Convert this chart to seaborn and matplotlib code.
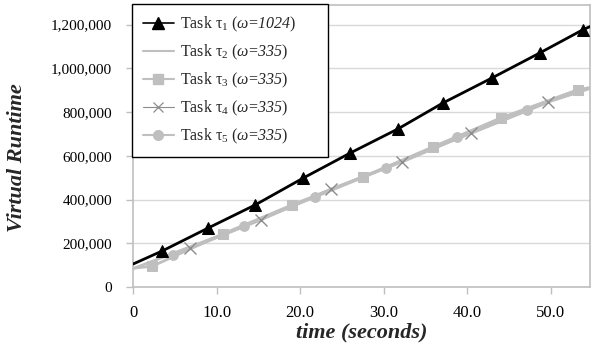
import numpy as np
import pandas as pd
import seaborn as sns
import matplotlib.pyplot as plt
from matplotlib.lines import Line2D
from matplotlib.ticker import FuncFormatter, MultipleLocator

# values (time in seconds, virtual runtime)
t1_x = [0, 3.5, 9.0, 14.6, 20.4, 26.0, 31.7, 37.1, 43.0, 48.7, 53.8, 55.5]
t1_y = [105000, 165000, 270000, 375000, 499000, 613000, 723000, 842000,
        957000, 1071000, 1176000, 1205000]
t1_mark = [1, 2, 3, 4, 5, 6, 7, 8, 9, 10]

t2_x = [0, 10.0, 20.0, 30.0, 40.0, 50.0, 55.5]
t2_y = [84000, 230000, 388000, 543000, 696000, 850000, 918000]

t3_x = [0, 2.3, 10.8, 19.0, 27.5, 35.9, 44.0, 53.2, 55.5]
t3_y = [86000, 95000, 243000, 375000, 503000, 641000, 773000, 902000, 918000]
t3_mark = [1, 2, 3, 4, 5, 6, 7]

t4_x = [6.8, 15.3, 23.7, 32.2, 40.4, 49.7]
t4_y = [177000, 307000, 448000, 572000, 705000, 847000]

t5_x = [4.8, 13.3, 21.8, 30.3, 38.8, 47.2]
t5_y = [145000, 279000, 412000, 545000, 686000, 810000]

pad = "      "
labels = [
    r"Task τ$_1$ ($\mathit{ω}$=$\mathsf{1024}$)" + pad,
    r"Task τ$_2$ ($\mathit{ω}$=$\mathsf{335}$)" + pad,
    r"Task τ$_3$ ($\mathit{ω}$=$\mathsf{335}$)" + pad,
    r"Task τ$_4$ ($\mathit{ω}$=$\mathsf{335}$)" + pad,
    r"Task τ$_5$ ($\mathit{ω}$=$\mathsf{335}$)" + pad,
]

sns.set_theme(style="white")
plt.rcParams["font.family"] = ["Liberation Serif", "DejaVu Serif"]
plt.rcParams["mathtext.fontset"] = "custom"
plt.rcParams["mathtext.rm"] = "Liberation Serif"
plt.rcParams["mathtext.it"] = "Liberation Serif:italic"
plt.rcParams["mathtext.sf"] = "Liberation Serif:italic"
plt.rcParams["mathtext.bf"] = "Liberation Serif:bold"

fig = plt.figure(figsize=(5.92, 3.5), dpi=100)
ax = fig.add_axes([0.2247, 0.18, 0.772, 0.8057])

gray = "#bfbfbf"
common = dict(ax=ax, estimator=None, sort=False, legend=False)

sns.lineplot(x=t2_x, y=t2_y, color=gray, lw=2, zorder=2, **common)
sns.lineplot(x=t3_x, y=t3_y, color=gray, lw=2, marker="s", markersize=7,
             markeredgecolor=gray, markevery=t3_mark, zorder=3, **common)
sns.lineplot(x=t4_x, y=t4_y, color=gray, lw=2, marker="x", markersize=8,
             markeredgecolor="#8c8c8c", markeredgewidth=1, zorder=4, **common)
sns.lineplot(x=t5_x, y=t5_y, color=gray, lw=2, marker="o", markersize=7,
             markeredgecolor=gray, zorder=3, **common)
sns.lineplot(x=t1_x, y=t1_y, color="black", lw=2, marker="^", markersize=8,
             markeredgecolor="black", markevery=t1_mark, zorder=5, **common)

handles = [
    Line2D([], [], color="black", lw=1.2, marker="^", markersize=8),
    Line2D([], [], color=gray, lw=1.5),
    Line2D([], [], color=gray, lw=1.5, marker="s", markersize=7),
    Line2D([], [], color="#8c8c8c", lw=0.8, marker="x", markersize=7,
           markeredgewidth=0.9),
    Line2D([], [], color=gray, lw=1.5, marker="o", markersize=7),
]
leg = ax.legend(handles, labels, loc="upper left", bbox_to_anchor=(-0.002, 1.005),
                fontsize=11.5, frameon=True, fancybox=False, framealpha=1,
                edgecolor="black", labelspacing=0.55, handlelength=1.9,
                handletextpad=0.4, borderpad=0.7, borderaxespad=0.0)
leg.get_frame().set_linewidth(1.0)
leg.set_zorder(10)

ax.set_xlim(0, 54.7)
ax.set_ylim(0, 1290000)
ax.xaxis.set_major_locator(MultipleLocator(10))
ax.yaxis.set_major_locator(MultipleLocator(200000))
ax.xaxis.set_major_formatter(FuncFormatter(lambda v, p: "0" if v == 0 else f"{v:.1f}"))
ax.yaxis.set_major_formatter(FuncFormatter(lambda v, p: f"{int(v):,}"))
ax.grid(axis="y", color="#d9d9d9", lw=1)
ax.set_axisbelow(True)

for s in ax.spines.values():
    s.set_color("#bfbfbf")
    s.set_linewidth(1.2)

ax.tick_params(axis="both", which="major", direction="out", length=5,
               color="#bfbfbf", width=1, labelcolor="black",
               left=True, bottom=True)
ax.tick_params(axis="x", pad=8, labelsize=12)
ax.tick_params(axis="y", pad=10, labelsize=11)

ax.set_xlabel("time (seconds)", fontsize=16, fontweight="bold",
              fontstyle="italic", labelpad=1)
ax.set_ylabel("Virtual Runtime", fontsize=16, fontweight="bold",
              fontstyle="italic")
ax.yaxis.set_label_coords(-0.232, 0.46)

fig.savefig("out.png", dpi=100)
